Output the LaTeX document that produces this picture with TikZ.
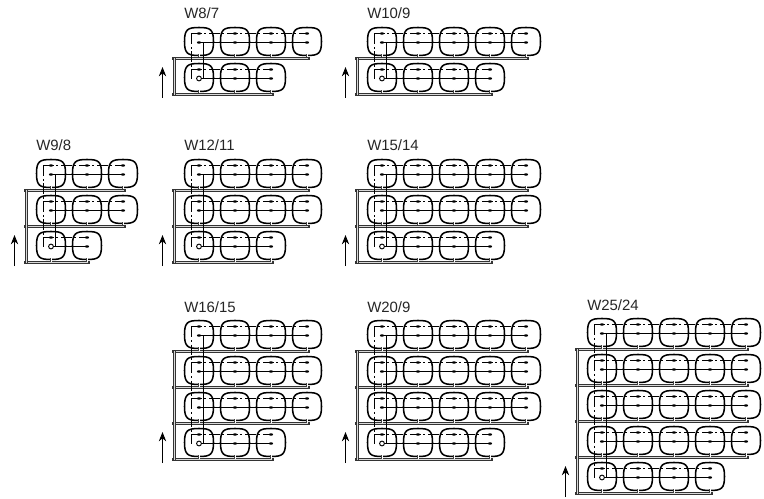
\documentclass[tikz,border=0pt]{standalone}
\usepackage{fontspec}
\setmainfont{Liberation Sans}
\usetikzlibrary{arrows.meta, positioning, calc}

\tikzset{
  coilline/.style={line width=1.15pt, black},
  conductor/.style={line width=0.75pt, black},
  returnline/.style={line width=0.75pt, black, dash pattern=on 8pt off 2pt on 1.5pt off 2pt},
  busbar/.style={line width=2.3pt, black!80, line cap=rect, postaction={draw=black!15, line width=0.6pt}},
  lead/.style={line width=1.8pt, black!75, postaction={draw=white, line width=0.6pt}},
  arr/.style={-{Stealth[length=7pt, width=5.5pt]}, line width=0.65pt, black},
  title/.style={font=\fontsize{11.2pt}{12pt}\selectfont, text=black!85, inner sep=0pt, anchor=base west},
  coil/.pic={
    \draw[coilline] (15,0.5) .. controls (26.5,0.5) and (29.5,2.5) .. (29.5,14.5)
      .. controls (29.5,26.5) and (26.5,28.5) .. (15,28.5)
      .. controls (3.5,28.5) and (0.5,26.5) .. (0.5,14.5)
      .. controls (0.5,2.5) and (3.5,0.5) .. (15,0.5) -- cycle;
  }
}

% one winding: x, y, rows, coils per row, coils in last row, label
\newcommand{\winding}[6]{
  \begin{scope}[shift={(#1,#2)}]
    \node[title] (label) at (0,-8) {#6};
    \pgfmathtruncatemacro{\nrow}{#3-1}
    \foreach \r in {0,...,\nrow}{
      \pgfmathtruncatemacro{\ncol}{\r==\nrow ? #5-1 : #4-1}
      \pgfmathsetmacro{\ytop}{36*\r}
      \foreach \c in {0,...,\ncol}{
        \pic at (36*\c,\ytop) {coil};
        \fill (36*\c+15,\ytop+6.5) ellipse (1.6pt and 0.9pt);
        \fill (36*\c+15,\ytop+15.5) ellipse (1.6pt and 0.9pt);
      }
      \draw[returnline] (7,\ytop+6.5) -- (36*\ncol+15,\ytop+6.5);
      \draw[conductor] (15,\ytop+15.5) -- (36*\ncol+15,\ytop+15.5);
      \draw[busbar] (-10,\ytop+31.5) -- (36*\ncol+16,\ytop+31.5);
      \foreach \c in {0,...,\ncol}{
        \draw[lead] (36*\c+15,\ytop+27) -- (36*\c+15,\ytop+30.5);
      }
    }
    % vertical runs through the first column
    \draw[returnline] (7.5,6.5) -- (7.5,36*\nrow+16);
    \draw[conductor] (19.5,15.5) -- (19.5,36*\nrow+15.5);
    \draw[busbar] (-9.5,31.5) -- (-9.5,36*\nrow+31.5);
    \draw[fill=white, line width=0.7pt] (15,36*\nrow+15.5) circle (1.8pt);
    % direction arrow
    \coordinate (tail) at (-21.5,36*\nrow+35);
    \coordinate (head) at (-21.5,36*\nrow+4);
    \draw[arr] (tail) -- (head);
  \end{scope}
}

\begin{document}
\begin{tikzpicture}[x=0.75pt, y=-0.75pt]
  \useasboundingbox (0,0) rectangle (764,499);

  % top row
  \winding{184}{27}{2}{4}{3}{W8/7}
  \winding{367}{27}{2}{5}{4}{W10/9}

  % middle row
  \winding{36}{159}{3}{3}{2}{W9/8}
  \winding{184}{159}{3}{4}{3}{W12/11}
  \winding{367}{159}{3}{5}{4}{W15/14}

  % bottom row
  \winding{184}{320}{4}{4}{3}{W16/15}
  \winding{367}{320}{4}{5}{4}{W20/9}
  \winding{587}{318}{5}{5}{4}{W25/24}
\end{tikzpicture}
\end{document}
